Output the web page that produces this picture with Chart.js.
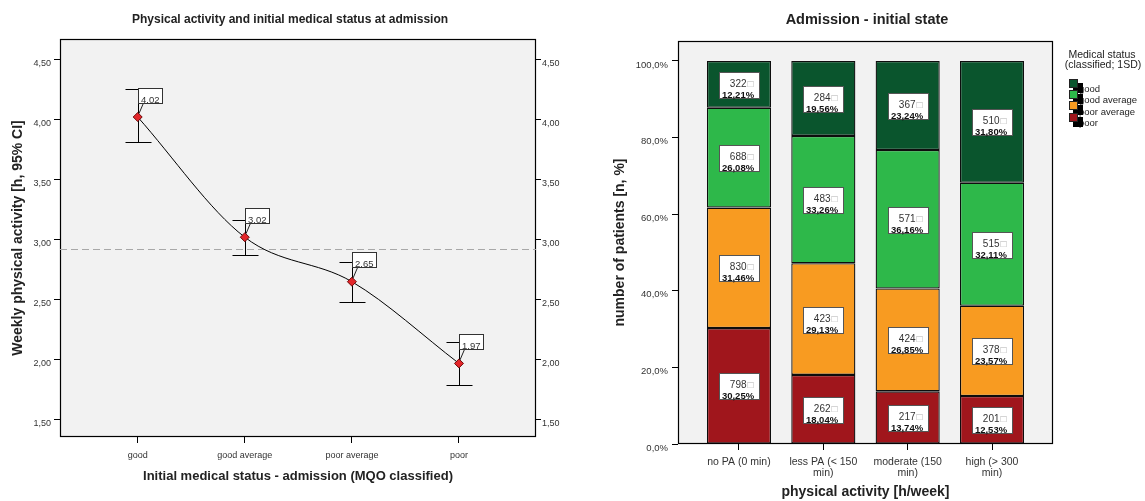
<!DOCTYPE html>
<html><head><meta charset="utf-8">
<script src="https://cdn.jsdelivr.net/npm/chart.js@4.4.1/dist/chart.umd.min.js"></script>
<style>
html,body{margin:0;padding:0;background:#fff;overflow:hidden;width:1145px;height:501px}
#c1{position:absolute;left:0;top:0}
#c2{position:absolute;left:589px;top:0}
</style></head><body>
<canvas id="c1" width="580" height="501"></canvas>
<canvas id="c2" width="556" height="501"></canvas>
<script>
// ---------- Left chart data ----------
const statusCategories = ['good', 'good average', 'poor average', 'poor'];
const meanPA = [4.02, 3.02, 2.65, 1.97];
const ciLower = [3.81, 2.875, 2.485, 1.79];
const ciUpper = [4.25, 3.165, 2.815, 2.145];
const overallMean = 2.92;
const leftYTicks = [1.5, 2.0, 2.5, 3.0, 3.5, 4.0, 4.5];

// ---------- Right chart data ----------
const paCategories = [['no PA (0 min)'], ['less PA (< 150', 'min)'], ['moderate (150', 'min)'], ['high (> 300', 'min)']];
const seriesNames = ['poor', 'poor average', 'good average', 'good'];
const pctPoor    = [30.25, 18.04, 13.74, 12.53];
const pctPoorAvg = [31.46, 29.13, 26.85, 23.57];
const pctGoodAvg = [26.08, 33.26, 36.16, 32.11];
const pctGood    = [12.21, 19.56, 23.24, 31.80];
const nPoor    = [798, 262, 217, 201];
const nPoorAvg = [830, 423, 424, 378];
const nGoodAvg = [688, 483, 571, 515];
const nGood    = [322, 284, 367, 510];
const rightYTicks = [0, 20, 40, 60, 80, 100];
const legendOrder = ['good', 'good average', 'poor average', 'poor'];

// ---------- styles ----------
const FONT = "'Liberation Sans', Arial, sans-serif";
Chart.defaults.font.family = FONT;
Chart.defaults.color = '#333';
const seriesColors = ['#a0161c', '#f89b21', '#2eb84a', '#0a552d'];
const legendColors = {'good': '#0a552d', 'good average': '#2eb84a', 'poor average': '#f89b21', 'poor': '#a0161c'};

const plotFrame = {
  id: 'plotFrame',
  beforeDraw(chart) {
    const {ctx, chartArea: a} = chart;
    ctx.save();
    ctx.fillStyle = '#f2f2f2';
    ctx.fillRect(a.left, a.top, a.right - a.left, a.bottom - a.top);
    ctx.restore();
  },
  beforeDatasetsDraw(chart) {
    const {ctx, chartArea: a} = chart;
    ctx.save();
    ctx.strokeStyle = '#000';
    ctx.lineWidth = 1.2;
    ctx.strokeRect(Math.round(a.left) + 0.5, Math.round(a.top) + 0.5, Math.round(a.right - a.left) - 1, Math.round(a.bottom - a.top) - 1);
    ctx.restore();
  }
};

// ---------- Left chart ----------
const leftDecor = {
  id: 'leftDecor',
  beforeDatasetsDraw(chart) {
    const {ctx, chartArea: a, scales: {x, y}} = chart;
    ctx.save();
    const yr = Math.round(y.getPixelForValue(overallMean)) + 0.5;
    ctx.strokeStyle = '#a8a8a8';
    ctx.lineWidth = 1;
    ctx.setLineDash([7, 4]);
    ctx.beginPath(); ctx.moveTo(a.left, yr); ctx.lineTo(a.right, yr); ctx.stroke();
    ctx.setLineDash([]);
    ctx.strokeStyle = '#000';
    meanPA.forEach((m, i) => {
      const px = Math.round(x.getPixelForValue(i)) + 0.5;
      const yu = Math.round(y.getPixelForValue(ciUpper[i])) + 0.5;
      const yl = Math.round(y.getPixelForValue(ciLower[i])) + 0.5;
      ctx.beginPath();
      ctx.moveTo(px, yu); ctx.lineTo(px, yl);
      ctx.moveTo(px - 13, yu); ctx.lineTo(px + 13, yu);
      ctx.moveTo(px - 13, yl); ctx.lineTo(px + 13, yl);
      ctx.stroke();
    });
    ctx.restore();
  },
  afterDatasetsDraw(chart) {
    const {ctx} = chart;
    const meta = chart.getDatasetMeta(0);
    ctx.save();
    meta.data.forEach((el, i) => {
      const px = Math.round(el.x) + 0.5, py = el.y;
      const bx = px, by = Math.round(py - 29.5) + 0.5;
      ctx.strokeStyle = '#222'; ctx.lineWidth = 1;
      ctx.beginPath(); ctx.moveTo(px + 5, py - 14); ctx.lineTo(px + 0.5, py - 3.5); ctx.stroke();
      ctx.fillStyle = '#fff';
      ctx.fillRect(bx, by, 24, 15);
      ctx.strokeStyle = '#333';
      ctx.strokeRect(bx, by, 24, 15);
      ctx.fillStyle = '#333';
      ctx.font = '9.5px ' + FONT;
      ctx.textAlign = 'left'; ctx.textBaseline = 'alphabetic';
      ctx.fillText(meanPA[i].toFixed(2), bx + 2.5, by + 14);
    });
    ctx.restore();
  }
};

const fmt2 = v => v.toFixed(2).replace('.', ',');
const tickGrid = {display: true, drawOnChartArea: false, drawTicks: true, tickLength: 6, color: '#000', lineWidth: 1, offset: false};

new Chart(document.getElementById('c1'), {
  type: 'line',
  data: {
    datasets: [{
      data: meanPA.map((v, i) => ({x: i, y: v})),
      borderColor: '#000', borderWidth: 1,
      cubicInterpolationMode: 'monotone',
      pointStyle: 'rectRot', pointRadius: 4.5,
      pointBackgroundColor: '#e3262a', pointBorderColor: '#6e0a0a', pointBorderWidth: 1
    }]
  },
  options: {
    responsive: false, animation: false, devicePixelRatio: 1,
    layout: {padding: 0},
    plugins: {
      legend: {display: false}, tooltip: {enabled: false},
      title: {display: true, text: 'Physical activity and initial medical status at admission',
        font: {size: 12, weight: 'bold'}, color: '#222', padding: {top: 12.8, bottom: 11.8}}
    },
    scales: {
      x: {
        type: 'linear', min: -0.7255, max: 3.719, offset: false,
        afterBuildTicks: s => { s.ticks = statusCategories.map((_, i) => ({value: i})); },
        afterFit: s => { s.height = 64; },
        ticks: {callback: v => statusCategories[v], autoSkip: false, maxRotation: 0, font: {size: 9}, color: '#333', padding: 7},
        grid: tickGrid, border: {display: false},
        title: {display: true, text: 'Initial medical status - admission (MQO classified)',
          font: {size: 13, weight: 'bold'}, color: '#222', padding: {top: 0, bottom: 17}}
      },
      y: {
        type: 'linear', position: 'left', min: 1.358, max: 4.669,
        afterBuildTicks: s => { s.ticks = leftYTicks.map(v => ({value: v})); },
        afterFit: s => { s.width = 60; },
        ticks: {callback: fmt2, font: {size: 9}, color: '#333', padding: 3, labelOffset: 4},
        grid: tickGrid, border: {display: false},
        title: {display: true, text: 'Weekly physical activity [h, 95% CI]',
          font: {size: 14, weight: 'bold'}, color: '#222', padding: {top: 9.6, bottom: 0}}
      },
      y2: {
        type: 'linear', position: 'right', min: 1.358, max: 4.669,
        afterBuildTicks: s => { s.ticks = leftYTicks.map(v => ({value: v})); },
        afterFit: s => { s.width = 44; },
        ticks: {callback: fmt2, font: {size: 9}, color: '#333', padding: 1, labelOffset: 4},
        grid: Object.assign({}, tickGrid, {tickLength: 5}), border: {display: false}
      }
    }
  },
  plugins: [plotFrame, leftDecor]
});

// ---------- Right chart ----------
const pctSeries = [pctPoor, pctPoorAvg, pctGoodAvg, pctGood];
const countSeries = [nPoor, nPoorAvg, nGoodAvg, nGood];
const fmtPct = v => v.toFixed(2).replace('.', ',') + '%';

const segmentLabels = {
  id: 'segmentLabels',
  afterDatasetsDraw(chart) {
    const {ctx} = chart;
    ctx.save();
    pctSeries.forEach((arr, k) => {
      const meta = chart.getDatasetMeta(k);
      meta.data.forEach((el, i) => {
        const cx = Math.round(el.x);
        const top = Math.min(el.y, el.base), bot = Math.max(el.y, el.base);
        const cy = (top + bot) / 2;
        const bx = cx - 20 + 0.5, by = Math.round(cy - 12.5) + 0.5;
        ctx.fillStyle = '#fff';
        ctx.fillRect(bx, by, 40, 26);
        ctx.strokeStyle = '#555'; ctx.lineWidth = 1;
        ctx.strokeRect(bx, by, 40, 26);
        ctx.textBaseline = 'middle';
        ctx.font = '10px ' + FONT;
        ctx.fillStyle = '#333';
        ctx.textAlign = 'right';
        ctx.fillText(String(countSeries[k][i]), cx + 7.5, by + 12);
        ctx.fillStyle = '#b0b0b0';
        ctx.font = '10px ' + FONT;
        ctx.textAlign = 'left';
        ctx.fillText('\u25A1', cx + 8.5, by + 12);
        ctx.font = 'bold 9.5px ' + FONT;
        ctx.fillStyle = '#111';
        ctx.textAlign = 'center';
        ctx.textBaseline = 'alphabetic';
        ctx.fillText(fmtPct(arr[i]), cx - 1, by + 25);
      });
    });
    ctx.restore();
  }
};

const customLegend = {
  id: 'customLegend',
  afterDraw(chart) {
    const {ctx} = chart;
    const ox = 589;
    ctx.save();
    ctx.fillStyle = '#222';
    ctx.font = '10.5px ' + FONT;
    ctx.textAlign = 'center'; ctx.textBaseline = 'middle';
    ctx.fillText('Medical status', 1102 - ox, 55);
    ctx.fillText('(classified; 1SD)', 1103 - ox, 65.5);
    ctx.font = '9.5px ' + FONT;
    ctx.textAlign = 'left';
    legendOrder.forEach((name, j) => {
      const cyv = 89.3 + j * 11.3;
      ctx.fillStyle = '#222';
      ctx.fillText(name, 1079 - ox, cyv);
    });
    legendOrder.forEach((name, j) => {
      const cyv = 89.3 + j * 11.3;
      ctx.fillStyle = '#000';
      ctx.fillRect(1073 - ox, Math.round(cyv - 6.5), 10, 10);
      ctx.fillStyle = legendColors[name];
      ctx.fillRect(1069 - ox, Math.round(cyv - 10.5), 9, 9);
      ctx.strokeStyle = '#222'; ctx.lineWidth = 1;
      ctx.strokeRect(1069 - ox + 0.5, Math.round(cyv - 10.5) + 0.5, 8, 8);
    });
    ctx.restore();
  }
};

new Chart(document.getElementById('c2'), {
  type: 'bar',
  data: {
    datasets: pctSeries.map((arr, k) => ({
      label: seriesNames[k],
      data: arr.map((v, i) => ({x: i, y: v})),
      backgroundColor: seriesColors[k],
      borderColor: '#0d0d0d', borderWidth: 1.3, borderSkipped: false, inflateAmount: 0,
      stack: 'pa', barPercentage: 0.76, categoryPercentage: 1
    }))
  },
  options: {
    responsive: false, animation: false, devicePixelRatio: 1,
    layout: {padding: 0},
    plugins: {
      legend: {display: false}, tooltip: {enabled: false},
      title: {display: true, text: 'Admission - initial state',
        font: {size: 14.5, weight: 'bold'}, color: '#222', padding: {top: 11.3, bottom: 12.3}}
    },
    scales: {
      x: {
        type: 'linear', min: -0.723, max: 3.723, offset: false,
        afterBuildTicks: s => { s.ticks = paCategories.map((_, i) => ({value: i})); },
        afterFit: s => { s.height = 57; },
        ticks: {callback: v => paCategories[v], autoSkip: false, maxRotation: 0,
          font: {size: 10.5, lineHeight: 1.05}, color: '#333', padding: 7},
        grid: tickGrid, border: {display: false},
        title: {display: true, text: 'physical activity [h/week]',
          font: {size: 14, weight: 'bold'}, color: '#222', padding: {top: 0, bottom: 0}}
      },
      y: {
        type: 'linear', position: 'left', min: 0, max: 105.2, stacked: true,
        afterBuildTicks: s => { s.ticks = rightYTicks.map(v => ({value: v})); },
        afterFit: s => { s.width = 89; },
        ticks: {callback: v => v.toFixed(1).replace('.', ',') + '%', font: {size: 9.5}, color: '#333', padding: 4, labelOffset: 4},
        grid: tickGrid, border: {display: false},
        title: {display: true, text: 'number of patients [n, %]',
          font: {size: 14, weight: 'bold'}, color: '#222', padding: {top: 22.6, bottom: 0}}
      },
      legendSpace: {
        type: 'linear', position: 'right', display: true,
        afterFit: s => { s.width = 92; },
        ticks: {display: false}, grid: {display: false}, border: {display: false}
      }
    }
  },
  plugins: [plotFrame, segmentLabels, customLegend]
});
</script>
</body></html>
